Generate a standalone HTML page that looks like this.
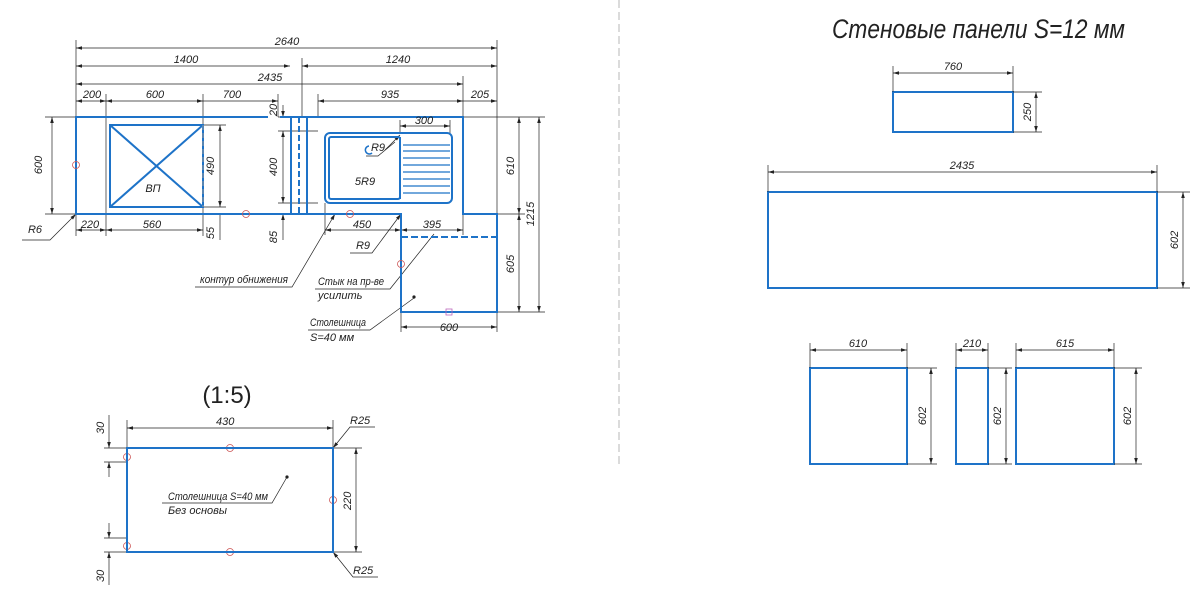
<!DOCTYPE html>
<html><head><meta charset="utf-8"><style>
html,body{margin:0;padding:0;background:#fff;}
svg{display:block;}
text{font-family:"Liberation Sans",sans-serif;font-style:italic;fill:#222;}
</style></head><body>
<svg width="1200" height="605" viewBox="0 0 1200 605" xmlns="http://www.w3.org/2000/svg">
<defs>
<marker id="a" viewBox="0 0 10 10" refX="10" refY="5" markerWidth="9" markerHeight="6" orient="auto-start-reverse" markerUnits="userSpaceOnUse"><path d="M0,2 L10,5 L0,8 z" fill="#222"/></marker>
</defs>
<g stroke="#222" stroke-width="0.7" fill="none">
<line x1="619" y1="0" x2="619" y2="465" stroke="#999" stroke-dasharray="8,4"/>
<line x1="76" y1="40" x2="76" y2="117"/><line x1="497" y1="40" x2="497" y2="214"/>
<line x1="302" y1="58" x2="302" y2="117"/><line x1="463" y1="76" x2="463" y2="117"/>
<line x1="106" y1="94" x2="106" y2="236"/><line x1="203" y1="94" x2="203" y2="236"/>
<line x1="278" y1="94" x2="278" y2="117"/><line x1="318" y1="94" x2="318" y2="117"/>
<line x1="76" y1="48" x2="497" y2="48" marker-start="url(#a)" marker-end="url(#a)"/>
<line x1="76" y1="66" x2="290" y2="66" marker-start="url(#a)" marker-end="url(#a)"/>
<line x1="302" y1="66" x2="497" y2="66" marker-start="url(#a)" marker-end="url(#a)"/>
<line x1="76" y1="84" x2="463" y2="84" marker-start="url(#a)" marker-end="url(#a)"/>
<line x1="76" y1="101" x2="106" y2="101" marker-start="url(#a)" marker-end="url(#a)"/>
<line x1="106" y1="101" x2="203" y2="101" marker-start="url(#a)" marker-end="url(#a)"/>
<line x1="203" y1="101" x2="278" y2="101" marker-end="url(#a)"/>
<line x1="318" y1="101" x2="463" y2="101" marker-start="url(#a)" marker-end="url(#a)"/>
<line x1="463" y1="101" x2="497" y2="101" marker-end="url(#a)"/>
<line x1="45" y1="117" x2="76" y2="117"/><line x1="45" y1="214" x2="76" y2="214"/>
<line x1="52" y1="117" x2="52" y2="214" marker-start="url(#a)" marker-end="url(#a)"/>
<line x1="203" y1="125" x2="226" y2="125"/><line x1="203" y1="207" x2="226" y2="207"/>
<line x1="220" y1="125" x2="220" y2="207" marker-start="url(#a)" marker-end="url(#a)"/>
<line x1="76" y1="214" x2="76" y2="236"/>
<line x1="76" y1="230" x2="106" y2="230" marker-start="url(#a)" marker-end="url(#a)"/>
<line x1="106" y1="230" x2="203" y2="230" marker-start="url(#a)" marker-end="url(#a)"/>
<line x1="220" y1="214" x2="220" y2="240"/>
<line x1="283" y1="105" x2="283" y2="117" marker-end="url(#a)"/>
<line x1="278" y1="117" x2="318" y2="117"/>
<line x1="278" y1="131" x2="318" y2="131"/><line x1="278" y1="203" x2="318" y2="203"/>
<line x1="283" y1="131" x2="283" y2="203" marker-start="url(#a)" marker-end="url(#a)"/>
<line x1="283" y1="240" x2="283" y2="214" marker-end="url(#a)"/>
<line x1="400" y1="120" x2="400" y2="133"/><line x1="450" y1="120" x2="450" y2="133"/>
<line x1="400" y1="126" x2="450" y2="126" marker-start="url(#a)" marker-end="url(#a)"/>
<line x1="325" y1="203" x2="325" y2="235"/><line x1="401" y1="214" x2="401" y2="235"/>
<line x1="325" y1="230" x2="401" y2="230" marker-start="url(#a)" marker-end="url(#a)"/>
<line x1="401" y1="230" x2="463" y2="230" marker-start="url(#a)" marker-end="url(#a)"/>
<line x1="463" y1="214" x2="463" y2="235"/>
<line x1="463" y1="117" x2="545" y2="117"/><line x1="497" y1="214" x2="525" y2="214"/><line x1="497" y1="312" x2="545" y2="312"/>
<line x1="519" y1="117" x2="519" y2="214" marker-start="url(#a)" marker-end="url(#a)"/>
<line x1="519" y1="214" x2="519" y2="312" marker-start="url(#a)" marker-end="url(#a)"/>
<line x1="539" y1="117" x2="539" y2="312" marker-start="url(#a)" marker-end="url(#a)"/>
<line x1="401" y1="312" x2="401" y2="332"/><line x1="497" y1="312" x2="497" y2="332"/>
<line x1="401" y1="327" x2="497" y2="327" marker-start="url(#a)" marker-end="url(#a)"/>
<polyline points="22,240 50,240 76,214" marker-end="url(#a)"/>
<polyline points="395,142 378,156 366,156"/><line x1="385" y1="150" x2="400" y2="135" marker-end="url(#a)"/>
<polyline points="350,253 372,253 401,214" marker-end="url(#a)"/>
<polyline points="195,287 292,287 335,214" marker-end="url(#a)"/>
<polyline points="315,289 390,289 434,234"/>
<polyline points="308,330 370,330 414,298"/>
</g>
<circle cx="414" cy="297" r="1.6" fill="#222"/>
<g stroke="#1e73c8" stroke-width="2" fill="none">
<polyline points="268,117 76,117 76,214 401,214 401,312 497,312 497,214 463,214 463,117 280,117"/>
<rect x="110" y="125" width="93" height="82"/>
<line x1="110" y1="125" x2="203" y2="207"/><line x1="203" y1="125" x2="110" y2="207"/>
<line x1="291" y1="117" x2="291" y2="214"/><line x1="299" y1="117" x2="299" y2="214" stroke-dasharray="6,3"/><line x1="307" y1="117" x2="307" y2="214"/>
<rect x="325" y="133" width="127" height="70" rx="5"/>
<rect x="329" y="137" width="71" height="62" rx="2"/>
<line x1="400" y1="137" x2="400" y2="199"/>
<g stroke-width="1.3">
<line x1="403" y1="145" x2="450" y2="145"/><line x1="403" y1="151" x2="450" y2="151"/><line x1="403" y1="158" x2="450" y2="158"/><line x1="403" y1="165" x2="450" y2="165"/><line x1="403" y1="172" x2="450" y2="172"/><line x1="403" y1="179" x2="450" y2="179"/><line x1="403" y1="186" x2="450" y2="186"/><line x1="403" y1="193" x2="450" y2="193"/>
</g>
<path d="M369,146 a4,4 0 1,0 3,7" stroke-width="1.5"/>
<line x1="401" y1="237" x2="497" y2="237" stroke-dasharray="7,3"/>
<line x1="203" y1="125" x2="203" y2="207" stroke="#999" stroke-width="1" stroke-dasharray="5,3"/>
</g>
<g stroke="#c55" stroke-width="0.8" fill="none">
<circle cx="76" cy="165" r="3.5"/><circle cx="246" cy="214" r="3.5"/><circle cx="350" cy="214" r="3.5"/><circle cx="401" cy="264" r="3.5"/>
<rect x="446" y="309" width="6" height="6" stroke="#b6b"/>
<circle cx="127" cy="457" r="3.5"/><circle cx="230" cy="448" r="3.5"/><circle cx="333" cy="500" r="3.5"/><circle cx="127" cy="546" r="3.5"/><circle cx="230" cy="552" r="3.5"/>
</g>
<g font-size="11" text-anchor="middle">
<text x="287" y="45">2640</text><text x="186" y="63">1400</text><text x="398" y="63">1240</text><text x="270" y="81">2435</text>
<text x="92" y="98">200</text><text x="155" y="98">600</text><text x="232" y="98">700</text><text x="390" y="98">935</text><text x="480" y="98">205</text>
<text x="90" y="228">220</text><text x="152" y="228">560</text>
<text x="424" y="124">300</text><text x="362" y="228">450</text><text x="432" y="228">395</text>
<text x="449" y="331">600</text>
<text x="153" y="192">ВП</text><text x="365" y="185">5R9</text><text x="378" y="151">R9</text>
<text x="363" y="249">R9</text><text x="35" y="233">R6</text>
<text transform="translate(42,165) rotate(-90)">600</text>
<text transform="translate(214,166) rotate(-90)">490</text>
<text transform="translate(214,233) rotate(-90)">55</text>
<text transform="translate(277,110) rotate(-90)">20</text>
<text transform="translate(277,167) rotate(-90)">400</text>
<text transform="translate(277,237) rotate(-90)">85</text>
<text transform="translate(514,166) rotate(-90)">610</text>
<text transform="translate(514,264) rotate(-90)">605</text>
<text transform="translate(534,214) rotate(-90)">1215</text>
</g>
<g font-size="11">
<text x="200" y="283" textLength="88" lengthAdjust="spacingAndGlyphs">контур обнижения</text>
<text x="318" y="285" textLength="66" lengthAdjust="spacingAndGlyphs">Стык на пр-ве</text><text x="318" y="299">усилить</text>
<text x="310" y="326" textLength="56" lengthAdjust="spacingAndGlyphs">Столешница</text><text x="310" y="341">S=40 мм</text>
</g>
<g stroke="#222" stroke-width="0.7" fill="none">
<line x1="127" y1="420" x2="127" y2="448"/><line x1="333" y1="420" x2="333" y2="448"/>
<line x1="127" y1="428" x2="333" y2="428" marker-start="url(#a)" marker-end="url(#a)"/>
<line x1="333" y1="448" x2="362" y2="448"/><line x1="333" y1="552" x2="362" y2="552"/>
<line x1="356" y1="448" x2="356" y2="552" marker-start="url(#a)" marker-end="url(#a)"/>
<line x1="104" y1="448" x2="127" y2="448"/><line x1="104" y1="462" x2="127" y2="462"/>
<line x1="104" y1="538" x2="127" y2="538"/><line x1="104" y1="552" x2="127" y2="552"/>
<line x1="109" y1="415" x2="109" y2="448" marker-end="url(#a)"/><line x1="109" y1="477" x2="109" y2="462" marker-end="url(#a)"/>
<line x1="109" y1="523" x2="109" y2="538" marker-end="url(#a)"/><line x1="109" y1="585" x2="109" y2="552" marker-end="url(#a)"/>
<polyline points="375,427 350,427 333,448" marker-end="url(#a)"/>
<polyline points="378,577 353,577 333,552" marker-end="url(#a)"/>
<polyline points="162,503 272,503 287,477"/>
</g>
<circle cx="287" cy="477" r="1.6" fill="#222"/>
<rect x="127" y="448" width="206" height="104" fill="none" stroke="#1e73c8" stroke-width="2"/>
<text x="227" y="403" font-size="24" text-anchor="middle" style="font-style:normal">(1:5)</text>
<g font-size="11">
<text x="216" y="425">430</text><text x="350" y="424">R25</text><text x="353" y="574">R25</text>
<text x="168" y="500" textLength="100" lengthAdjust="spacingAndGlyphs">Столешница S=40 мм</text><text x="168" y="514">Без основы</text>
<text transform="translate(104,434) rotate(-90)">30</text>
<text transform="translate(104,582) rotate(-90)">30</text>
<text transform="translate(351,510) rotate(-90)">220</text>
</g>
<text x="832" y="38" font-size="27" textLength="293" lengthAdjust="spacingAndGlyphs">Стеновые панели S=12 мм</text>
<g fill="none" stroke="#1e73c8" stroke-width="2">
<rect x="893" y="92" width="120" height="40"/>
<rect x="768" y="192" width="389" height="96"/>
<rect x="810" y="368" width="97" height="96"/>
<rect x="956" y="368" width="32" height="96"/>
<rect x="1016" y="368" width="98" height="96"/>
</g>
<g stroke="#222" stroke-width="0.7" fill="none">
<line x1="893" y1="66" x2="893" y2="92"/><line x1="1013" y1="66" x2="1013" y2="92"/>
<line x1="893" y1="73" x2="1013" y2="73" marker-start="url(#a)" marker-end="url(#a)"/>
<line x1="1013" y1="92" x2="1042" y2="92"/><line x1="1013" y1="132" x2="1042" y2="132"/>
<line x1="1036" y1="92" x2="1036" y2="132" marker-start="url(#a)" marker-end="url(#a)"/>
<line x1="768" y1="165" x2="768" y2="192"/><line x1="1157" y1="165" x2="1157" y2="192"/>
<line x1="768" y1="172" x2="1157" y2="172" marker-start="url(#a)" marker-end="url(#a)"/>
<line x1="1157" y1="192" x2="1190" y2="192"/><line x1="1157" y1="288" x2="1190" y2="288"/>
<line x1="1183" y1="192" x2="1183" y2="288" marker-start="url(#a)" marker-end="url(#a)"/>
<line x1="810" y1="343" x2="810" y2="368"/><line x1="907" y1="343" x2="907" y2="368"/>
<line x1="810" y1="350" x2="907" y2="350" marker-start="url(#a)" marker-end="url(#a)"/>
<line x1="907" y1="368" x2="937" y2="368"/><line x1="907" y1="464" x2="937" y2="464"/>
<line x1="931" y1="368" x2="931" y2="464" marker-start="url(#a)" marker-end="url(#a)"/>
<line x1="956" y1="343" x2="956" y2="368"/><line x1="988" y1="343" x2="988" y2="368"/>
<line x1="956" y1="350" x2="988" y2="350" marker-start="url(#a)" marker-end="url(#a)"/>
<line x1="988" y1="368" x2="1012" y2="368"/><line x1="988" y1="464" x2="1012" y2="464"/>
<line x1="1006" y1="368" x2="1006" y2="464" marker-start="url(#a)" marker-end="url(#a)"/>
<line x1="1016" y1="343" x2="1016" y2="368"/><line x1="1114" y1="343" x2="1114" y2="368"/>
<line x1="1016" y1="350" x2="1114" y2="350" marker-start="url(#a)" marker-end="url(#a)"/>
<line x1="1114" y1="368" x2="1142" y2="368"/><line x1="1114" y1="464" x2="1142" y2="464"/>
<line x1="1136" y1="368" x2="1136" y2="464" marker-start="url(#a)" marker-end="url(#a)"/>
</g>
<g font-size="11" text-anchor="middle">
<text x="953" y="70">760</text><text x="962" y="169">2435</text>
<text x="858" y="347">610</text><text x="972" y="347">210</text><text x="1065" y="347">615</text>
<text transform="translate(1031,112) rotate(-90)">250</text>
<text transform="translate(1178,240) rotate(-90)">602</text>
<text transform="translate(926,416) rotate(-90)">602</text>
<text transform="translate(1001,416) rotate(-90)">602</text>
<text transform="translate(1131,416) rotate(-90)">602</text>
</g>
</svg>
</body></html>
